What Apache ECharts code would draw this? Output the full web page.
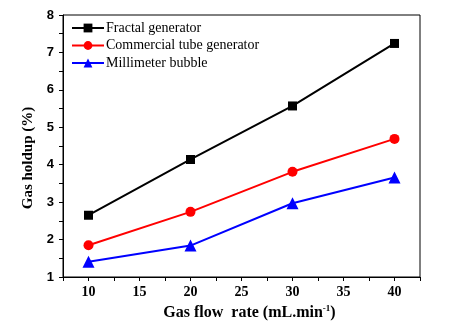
<!DOCTYPE html>
<html>
<head>
<meta charset="utf-8">
<script src="https://cdn.jsdelivr.net/npm/echarts@6/dist/echarts.min.js"></script>
<style>html,body{margin:0;padding:0;background:#fff}#c{width:452px;height:327px}</style>
</head>
<body>
<div id="c"></div>
<script>
var flowRates = [10, 20, 30, 40];
var fractal = [2.65, 4.14, 5.57, 7.24];
var commercial = [1.85, 2.74, 3.81, 4.69];
var millimeter = [1.41, 1.84, 2.97, 3.66];
var seriesNames = ['Fractal generator', 'Commercial tube generator', 'Millimeter bubble'];
var xTickLabels = [10, 15, 20, 25, 30, 35, 40];
var yTickLabels = [1, 2, 3, 4, 5, 6, 7, 8];

function pairs(ys) { return flowRates.map(function (x, i) { return [x, ys[i]]; }); }

var chart = echarts.init(document.getElementById('c'), null, {renderer: 'canvas'});
chart.setOption({
  animation: false,
  backgroundColor: '#fff',
  grid: {left: 63, top: 15, right: 32, bottom: 50, show: true, borderColor: '#000', borderWidth: 1},
  legend: {
    left: 66, top: 16, orient: 'vertical', itemWidth: 32, itemHeight: 11, itemGap: 3.5,
    textStyle: {fontFamily: 'Liberation Serif', fontSize: 14, color: '#000', padding: [0, 0, 0, -3]},
    data: seriesNames
  },
  xAxis: {
    type: 'value', min: 7.5, max: 42.5, interval: 2.5,
    name: '{a|Gas flow  rate (mL.min}{s|-1}{a|)}',
    nameLocation: 'middle', nameGap: 25,
    nameTextStyle: {
      padding: [0, 0, 0, 16],
      rich: {
        a: {fontFamily: 'Liberation Serif', fontWeight: 'bold', fontSize: 16, color: '#000'},
        s: {fontFamily: 'Liberation Serif', fontWeight: 'bold', fontSize: 9, color: '#000', verticalAlign: 'top', padding: [0, 0, 8, 0]}
      }
    },
    axisLine: {lineStyle: {color: '#000', width: 1}},
    axisTick: {inside: false, length: 4, lineStyle: {color: '#000'}},
    axisLabel: {
      fontFamily: 'Liberation Serif', fontWeight: 'bold', fontSize: 14, color: '#000', margin: 8,
      formatter: function (v) { return xTickLabels.indexOf(v) >= 0 ? String(v) : ''; }
    },
    splitLine: {show: false}
  },
  yAxis: {
    type: 'value', min: 1, max: 8, interval: 1,
    name: 'Gas holdup (%)', nameLocation: 'middle', nameGap: 22,
    nameTextStyle: {fontFamily: 'Liberation Serif', fontWeight: 'bold', fontSize: 15, color: '#000', padding: [0, 0, 0, -24]},
    axisLine: {show: true, lineStyle: {color: '#000', width: 1}},
    axisTick: {show: true, inside: false, length: 4, lineStyle: {color: '#000'}},
    minorTick: {show: true, splitNumber: 2, length: 4, lineStyle: {color: '#000'}},
    axisLabel: {
      fontFamily: 'Liberation Sans', fontWeight: 'bold', fontSize: 13, color: '#000', margin: 9,
      formatter: function (v) { return yTickLabels.indexOf(v) >= 0 ? String(v) : ''; }
    },
    splitLine: {show: false}
  },
  series: [
    {name: seriesNames[0], type: 'line', data: pairs(fractal), symbol: 'rect', symbolSize: 9,
     itemStyle: {color: '#000'}, lineStyle: {color: '#000', width: 2}},
    {name: seriesNames[1], type: 'line', data: pairs(commercial), symbol: 'circle', symbolSize: 10,
     itemStyle: {color: '#ff0000'}, lineStyle: {color: '#ff0000', width: 2}},
    {name: seriesNames[2], type: 'line', data: pairs(millimeter), symbol: 'triangle', symbolSize: 12,
     itemStyle: {color: '#0000ff'}, lineStyle: {color: '#0000ff', width: 2}}
  ]
});
</script>
</body>
</html>
